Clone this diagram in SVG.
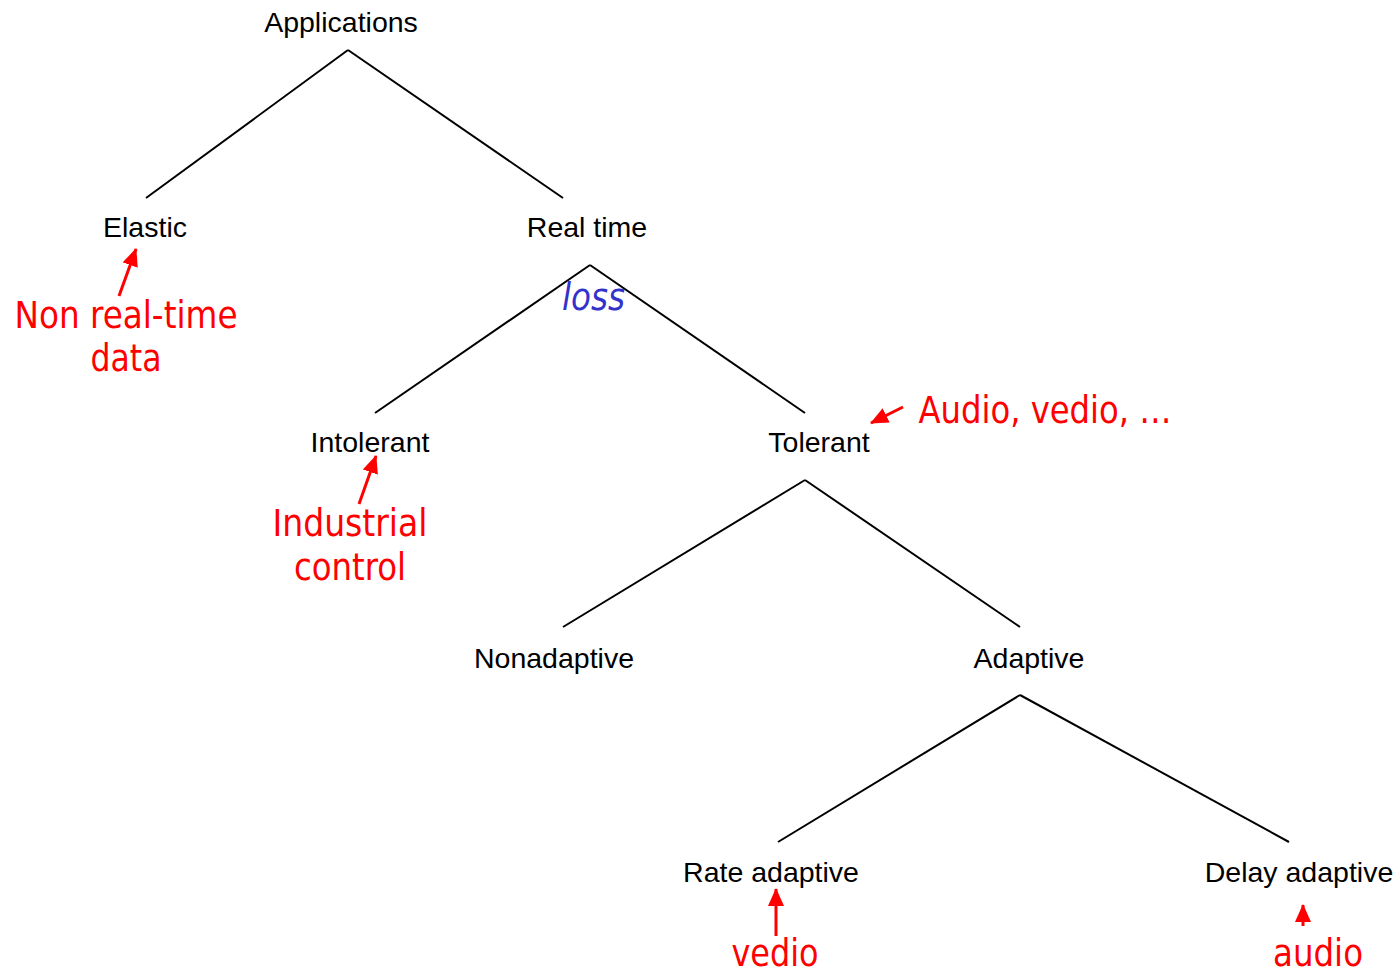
<svg xmlns="http://www.w3.org/2000/svg" width="1400" height="973" viewBox="0 0 1400 973">
<defs>
<style>
.node{font-family:"Liberation Sans",Arial,sans-serif;font-size:28.5px;fill:#000;text-anchor:middle}
.note{font-family:"DejaVu Sans Condensed","DejaVu Sans",sans-serif;font-size:37px;fill:#ff0000;text-anchor:middle}
.loss{font-family:"DejaVu Sans Condensed","DejaVu Sans",sans-serif;font-size:37px;fill:#3333cc;font-style:italic}
.edge{stroke:#000;stroke-width:2;fill:none}
.arr{stroke:#ff0000;stroke-width:3;fill:none;marker-end:url(#ah)}
</style>
<marker id="ah" markerUnits="userSpaceOnUse" markerWidth="18" markerHeight="16" refX="17" refY="8" orient="auto">
<path d="M0,0 L18,8 L0,16 Z" fill="#ff0000"/>
</marker>
</defs>
<rect width="1400" height="973" fill="#fff"/>
<g id="connectors">
<line class="edge" x1="348" y1="50" x2="146" y2="198"/>
<line class="edge" x1="348" y1="50" x2="563" y2="198"/>
<line class="edge" x1="590" y1="265" x2="375" y2="413"/>
<line class="edge" x1="590" y1="265" x2="805" y2="413"/>
<line class="edge" x1="805" y1="480" x2="563" y2="627"/>
<line class="edge" x1="805" y1="480" x2="1020" y2="627"/>
<line class="edge" x1="1020" y1="695" x2="778" y2="842"/>
<line class="edge" x1="1020" y1="695" x2="1289" y2="842"/>
<line class="arr" x1="119" y1="296" x2="136" y2="249"/>
<line class="arr" x1="359" y1="504" x2="376" y2="456"/>
<line class="arr" x1="903" y1="407" x2="871" y2="423"/>
<line class="arr" x1="776" y1="936" x2="776" y2="889"/>
<line class="arr" x1="1303" y1="926" x2="1303" y2="905"/>
</g>
<g id="n-applications"><text class="node" x="341" y="32">Applications</text></g>
<g id="n-elastic"><text class="node" x="145" y="237">Elastic</text></g>
<g id="n-realtime"><text class="node" x="587" y="237">Real time</text></g>
<g id="n-intolerant"><text class="node" x="370" y="452">Intolerant</text></g>
<g id="n-tolerant"><text class="node" x="819" y="452">Tolerant</text></g>
<g id="n-nonadaptive"><text class="node" x="554" y="668">Nonadaptive</text></g>
<g id="n-adaptive"><text class="node" x="1029" y="668">Adaptive</text></g>
<g id="n-rate"><text class="node" x="771" y="882">Rate adaptive</text></g>
<g id="n-delay"><text class="node" x="1299" y="882">Delay adaptive</text></g>
<g id="notes">
<text class="note" x="126" y="328" textLength="223" lengthAdjust="spacingAndGlyphs">Non real-time</text>
<text class="note" x="126" y="371" textLength="71" lengthAdjust="spacingAndGlyphs">data</text>
<text class="note" x="350" y="536" textLength="155" lengthAdjust="spacingAndGlyphs">Industrial</text>
<text class="note" x="350" y="580" textLength="112" lengthAdjust="spacingAndGlyphs">control</text>
<text class="note" x="1045" y="423" textLength="253" lengthAdjust="spacingAndGlyphs">Audio, vedio, …</text>
<text class="note" x="775" y="966" textLength="87" lengthAdjust="spacingAndGlyphs">vedio</text>
<text class="note" x="1318" y="966" textLength="90" lengthAdjust="spacingAndGlyphs">audio</text>
<text class="loss" x="562" y="310" textLength="63" lengthAdjust="spacingAndGlyphs">loss</text>
</g>
</svg>
